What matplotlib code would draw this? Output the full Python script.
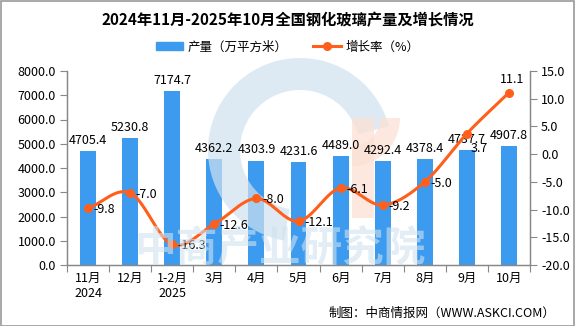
import numpy as np
import matplotlib
matplotlib.use("Agg")
import matplotlib.pyplot as plt
from matplotlib.patches import Rectangle, Wedge
from matplotlib.lines import Line2D
from matplotlib.transforms import Affine2D

plt.rcParams['font.family'] = ['Noto Sans CJK SC', 'DejaVu Sans']

months = ["11月\n2024", "12月", "1-2月\n2025", "3月", "4月", "5月", "6月",
          "7月", "8月", "9月", "10月"]
output = [4705.4, 5230.8, 7174.7, 4362.2, 4303.9, 4231.6, 4489.0,
          4292.4, 4378.4, 4737.7, 4907.8]
growth = [-9.8, -7.0, -16.3, -12.6, -8.0, -12.1, -6.1, -9.2, -5.0, 3.7, 11.1]

BLUE = "#3d9bef"
ORANGE = "#ff5f1a"
W, H = 575, 326
FS = 9

fig = plt.figure(figsize=(W / 100, H / 100), dpi=100)
ax = fig.add_axes([67 / W, 1 - 265 / H, (530 - 67) / W, (265 - 71) / H])
ax2 = ax.twinx()

x = np.arange(len(months))
ax.bar(x, output, width=0.38, color=BLUE, zorder=2)
ax.set_xlim(-0.5, len(months) - 0.5)
ax.set_ylim(0, 8000)
ax.set_yticks(np.arange(0, 8001, 1000))
ax.set_yticklabels([f"{v:.1f}" for v in np.arange(0, 8001, 1000)])
ax2.set_ylim(-20, 15)
ax2.set_yticks(np.arange(-20, 16, 5))
ax2.set_yticklabels([f"{v:.1f}" for v in np.arange(-20, 16, 5)])

# category labels centred, tick marks at category borders
ax.set_xticks(x)
ax.set_xticklabels(months, fontsize=FS, linespacing=1.2)
ax.set_xticks(np.arange(-0.5, len(months), 1), minor=True)
ax.tick_params(axis="x", which="major", length=0, pad=5)
ax.tick_params(axis="x", which="minor", length=5, color="#888888", width=0.8)
for a in (ax, ax2):
    a.tick_params(axis="y", length=5, color="#888888", width=0.8, labelsize=FS, pad=3)
    for s in a.spines.values():
        s.set_color("#888888")
        s.set_linewidth(0.9)
    a.spines["top"].set_visible(False)

# bar value labels
for xi, v in zip(x, output):
    ax.annotate(f"{v:.1f}", (xi, v), xytext=(0, 3), textcoords="offset points",
                ha="center", va="bottom", fontsize=FS, zorder=6)

# smoothed growth curve (Catmull-Rom through the data points)
def catmull_rom(px, py, n=30):
    P = np.column_stack([np.asarray(px, float), np.asarray(py, float)])
    P = np.vstack([P[0] - (P[1] - P[0]), P, P[-1] + (P[-1] - P[-2])])
    out = []
    t = np.linspace(0, 1, n)[:, None]
    for i in range(1, len(P) - 2):
        p0, p1, p2, p3 = P[i - 1], P[i], P[i + 1], P[i + 2]
        seg = 0.5 * ((2 * p1) + (-p0 + p2) * t + (2 * p0 - 5 * p1 + 4 * p2 - p3) * t ** 2
                     + (-p0 + 3 * p1 - 3 * p2 + p3) * t ** 3)
        out.append(seg)
    return np.vstack(out)

curve = catmull_rom(x, growth)
ax2.plot(curve[:, 0], curve[:, 1], color=ORANGE, lw=2.2, zorder=5, solid_capstyle="round")
ax2.plot(x, growth, "o", color=ORANGE, ms=5.5, zorder=6)

offsets = {9: (3, -11)}
for i, (xi, g) in enumerate(zip(x, growth)):
    if i == len(growth) - 1:
        ax2.annotate(f"{g:.1f}", (xi, g), xytext=(2, 5), textcoords="offset points",
                     ha="center", va="bottom", fontsize=FS, zorder=7)
    else:
        dx, dy = offsets.get(i, (4, -1))
        ax2.annotate(f"{g:.1f}", (xi, g), xytext=(dx, dy), textcoords="offset points",
                     ha="left", va="center", fontsize=FS, zorder=7)

# faint logo and wordmark in pixel coordinates (origin top-left)
px = Affine2D().scale(1, -1).translate(0, H)
wm_blue = "#cfe2ef"
wm_pink = "#fbe1d4"
ax.add_patch(Wedge((300, 150), 92, 100, 345, width=32, transform=px,
                   facecolor=wm_blue, edgecolor="none", alpha=0.7, zorder=3, clip_on=False))
ax.add_patch(Rectangle((352, 118), 22, 100, transform=px, facecolor=wm_pink,
                       edgecolor="none", alpha=0.75, zorder=3, clip_on=False))
ax.add_patch(Wedge((352, 118), 48, 0, 90, width=20, transform=px,
                   facecolor=wm_pink, edgecolor="none", alpha=0.75, zorder=3, clip_on=False))
fig.text(280 / W, 1 - 250 / H, "中商产业研究院", fontsize=30, fontweight="bold",
         color=wm_blue, alpha=0.6, ha="center", va="center", zorder=1)

# title, legend, source
fig.text(0.5, 1 - 20 / H, "2024年11月-2025年10月全国钢化玻璃产量及增长情况",
         ha="center", va="center", fontsize=11, fontweight="bold")
handles = [Rectangle((0, 0), 1, 1, color=BLUE),
           Line2D([], [], color=ORANGE, lw=2.2, marker="o", ms=5.5)]
fig.legend(handles, ["产量（万平方米）", "增长率（%）"], loc="center",
           bbox_to_anchor=(0.5, 1 - 47 / H), ncol=2, frameon=False, fontsize=FS,
           handlelength=2.2, handleheight=0.6, columnspacing=2.0, handletextpad=0.4)
fig.text(555 / W, 1 - 313 / H, "制图：中商情报网（WWW.ASKCI.COM）",
         ha="right", va="center", fontsize=FS)

fig.add_artist(Rectangle((0.5 / W, 0.5 / H), 1 - 1.5 / W, 1 - 1.5 / H,
                         transform=fig.transFigure, fill=False,
                         edgecolor="#999999", linewidth=1.2))

fig.savefig("out.png", dpi=100)
